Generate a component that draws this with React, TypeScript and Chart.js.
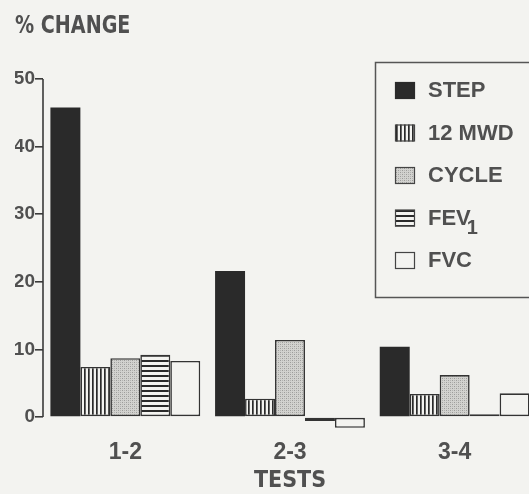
import React, { useEffect, useRef } from "react";
import { Chart, registerables } from "chart.js";
Chart.register(...registerables);

const categories = ["1-2", "2-3", "3-4"];
const seriesNames = ["STEP", "12 MWD", "CYCLE", "FEV₁", "FVC"];
const stepValues = [45.8, 21.6, 10.4];
const mwdValues = [7.4, 2.7, 3.4];
const cycleValues = [8.7, 11.4, 6.2];
const fev1Values = [9.2, -0.6, 0.4];
const fvcValues = [8.3, -1.6, 3.5];
const yTicks = [0, 10, 20, 30, 40, 50];
const yTitle = "% CHANGE";
const xTitle = "TESTS";

const BG = "#f3f3f0";
const INK = "#2a2a2a";
const TEXT = "#505050";
const SANS = "'Liberation Sans', Arial, sans-serif";
const COND = "'DejaVu Sans Condensed', 'DejaVu Sans', sans-serif";

function makePattern(kind: string): CanvasPattern | string {
  const c = document.createElement("canvas");
  const ctx = c.getContext("2d")!;
  if (kind === "vert") {
    c.width = 4; c.height = 4;
    ctx.fillStyle = BG; ctx.fillRect(0, 0, 4, 4);
    ctx.fillStyle = INK; ctx.fillRect(0, 0, 1.7, 4);
  } else if (kind === "horiz") {
    c.width = 4; c.height = 5;
    ctx.fillStyle = BG; ctx.fillRect(0, 0, 4, 5);
    ctx.fillStyle = INK; ctx.fillRect(0, 0, 4, 2);
  } else if (kind === "dots") {
    c.width = 4; c.height = 4;
    ctx.fillStyle = "#d2d2cf"; ctx.fillRect(0, 0, 4, 4);
    ctx.fillStyle = "#9c9c9a";
    ctx.fillRect(0, 0, 1, 1);
    ctx.fillRect(2, 2, 1, 1);
    ctx.fillStyle = "#b4b4b2";
    ctx.fillRect(2, 0, 1, 1);
    ctx.fillRect(0, 2, 1, 1);
  } else {
    return BG;
  }
  return ctx.createPattern(c, "repeat")!;
}

const boxLegend = {
  id: "boxLegend",
  afterDraw(chart: any) {
    const ctx = chart.ctx as CanvasRenderingContext2D;
    const y = chart.scales.y;
    const x0 = chart.chartArea.left;
    ctx.save();
    // y axis line from 0 to 50
    ctx.strokeStyle = "#3a3a3a";
    ctx.lineWidth = 1.6;
    ctx.beginPath();
    ctx.moveTo(x0, y.getPixelForValue(yTicks[0]));
    ctx.lineTo(x0, y.getPixelForValue(yTicks[yTicks.length - 1]));
    ctx.stroke();

    // y title (condensed)
    ctx.save();
    ctx.fillStyle = TEXT;
    ctx.font = `bold 25px ${COND}`;
    ctx.textBaseline = "middle";
    ctx.textAlign = "left";
    ctx.translate(15, 26);
    ctx.scale(0.85, 1);
    ctx.fillText(yTitle, 0, 0);
    ctx.restore();

    // legend box
    ctx.strokeStyle = "#555";
    ctx.lineWidth = 1.5;
    ctx.strokeRect(375.5, 62.5, 180, 235);
    chart.data.datasets.forEach((ds: any, i: number) => {
      const cy = 90 + i * 42.5;
      ctx.fillStyle = ds.backgroundColor;
      ctx.fillRect(395, cy - 8, 20, 17);
      ctx.strokeStyle = i === 0 ? INK : "#444";
      ctx.lineWidth = 1.2;
      ctx.strokeRect(395.5, cy - 7.5, 19, 16);
      ctx.fillStyle = TEXT;
      ctx.textBaseline = "middle";
      ctx.textAlign = "left";
      ctx.font = `bold 22px ${SANS}`;
      const label: string = ds.label;
      if (label.endsWith("₁")) {
        const base = label.slice(0, -1);
        ctx.fillText(base, 428, cy + 1);
        const w = ctx.measureText(base).width;
        ctx.font = `bold 20px ${SANS}`;
        ctx.fillText("1", 428 + w - 4, cy + 11);
      } else {
        ctx.fillText(label, 428, cy + 1);
      }
    });
    ctx.restore();
  },
};

export default function App() {
  const ref = useRef<HTMLCanvasElement>(null);
  useEffect(() => {
    const fills = [INK, makePattern("vert"), makePattern("dots"), makePattern("horiz"), makePattern("none")];
    const values = [stepValues, mwdValues, cycleValues, fev1Values, fvcValues];
    const chart = new Chart(ref.current!, {
      type: "bar",
      data: {
        labels: categories,
        datasets: seriesNames.map((name, i) => ({
          label: name,
          data: values[i],
          backgroundColor: fills[i] as any,
          borderColor: i === 0 ? INK : "#333",
          borderWidth: i === 0 ? 0 : 1.6,
          borderSkipped: false,
          barPercentage: 1,
          categoryPercentage: 0.91,
        })),
      },
      options: {
        animation: false,
        responsive: false,
        layout: { padding: { left: 15, right: 0, top: 79, bottom: 0 } },
        plugins: {
          legend: { display: false },
          tooltip: { enabled: false },
          title: { display: false },
        },
        scales: {
          x: {
            grid: { display: false, drawTicks: false },
            border: { display: false },
            ticks: {
              color: TEXT,
              font: { family: SANS, weight: "bold", size: 23 },
              padding: 8,
            },
            title: {
              display: true,
              text: xTitle,
              color: TEXT,
              font: { family: COND, weight: "bold", size: 23, lineHeight: 1 },
              padding: { top: 0, bottom: 1 },
            },
            afterFit: (s: any) => { s.height = 63.5; },
          },
          y: {
            min: -2,
            max: 50,
            afterBuildTicks: (axis: any) => { axis.ticks = yTicks.map((v) => ({ value: v })); },
            grid: { drawOnChartArea: false, drawTicks: true, tickLength: 8, color: "#3a3a3a", lineWidth: 1.6 },
            border: { display: false },
            ticks: {
              color: TEXT,
              font: { family: SANS, weight: "bold", size: 19 },
              padding: 0,
            },
            afterFit: (s: any) => { s.width = 28; },
          },
        },
      },
      plugins: [boxLegend],
    });
    return () => chart.destroy();
  }, []);
  return (
    <div style={{ position: "fixed", left: 0, top: 0, width: 529, height: 494, overflow: "hidden", background: BG }}>
      <canvas ref={ref} width={537} height={494} style={{ display: "block" }} />
    </div>
  );
}
